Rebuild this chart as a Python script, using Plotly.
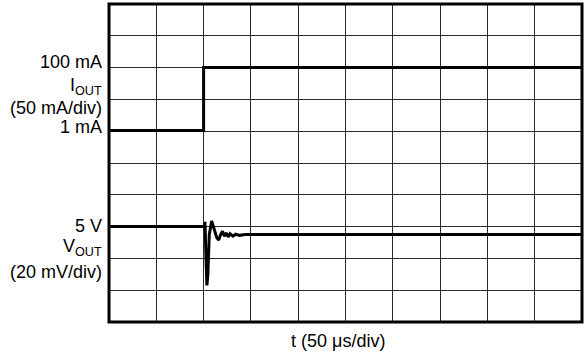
import plotly.graph_objects as go

# time axis, 50 us/div, 10 divisions
t_range = [0, 500]

# output current step (mA)
i_time = [0, 100, 100, 500]
i_out = [1, 1, 100, 100]

# output voltage deviation from 5 V (mV)
v_time = [0, 100, 101, 101.5, 102.5, 103.5, 104.5, 106, 108.5, 111, 114, 116,
          118, 120, 122, 124, 126, 128, 131, 134, 138, 144, 500]
v_out = [0, 0, 0.5, 3, -20, -37, -30, -5, 3.5, -2, -7, -8.5,
         -5, -3, -6, -4, -6.5, -4.5, -6, -4.8, -5.5, -5, -5]

font = 'Liberation Sans, Arial, sans-serif'
fsize = 18

fig = go.Figure()
fig.add_trace(go.Scatter(x=i_time, y=i_out, mode='lines',
                         line=dict(color='black', width=3), yaxis='y'))
fig.add_trace(go.Scatter(x=v_time, y=v_out, mode='lines',
                         line=dict(color='black', width=3), yaxis='y2'))

grid = dict(showgrid=True, gridcolor='#2a2a2a', gridwidth=1.3, zeroline=False,
            showticklabels=False, ticks='', showline=False)

fig.update_layout(
    width=584, height=355,
    margin=dict(l=109, r=2, t=4, b=33),
    paper_bgcolor='white', plot_bgcolor='white',
    showlegend=False,
    font=dict(family=font, size=fsize, color='black'),
    xaxis=dict(range=t_range, dtick=50, **grid),
    yaxis=dict(range=[-300, 200], dtick=50, **grid),
    yaxis2=dict(range=[-60, 140], overlaying='y', showgrid=False, zeroline=False,
                showticklabels=False, ticks='', showline=False),
)

# frame
fig.add_shape(type='rect', xref='paper', yref='paper', x0=0, x1=1, y0=0, y1=1,
              line=dict(color='black', width=3))

labels = [
    ('100 mA', 'y', 100, 6),
    ('I<sub>OUT</sub>', 'y', 69, 1),
    ('(50 mA/div)', 'y', 36, 0),
    ('1 mA', 'y', 1, 4),
    ('5 V', 'y2', 0, 1),
    ('V<sub>OUT</sub>', 'y2', -14, 1),
    ('(20 mV/div)', 'y2', -28.4, 0),
]
for text, yref, yv, ys in labels:
    fig.add_annotation(text=text, xref='paper', x=0, yref=yref, y=yv,
                       xanchor='right', yanchor='middle', xshift=-5, yshift=ys,
                       showarrow=False, font=dict(size=fsize))

fig.add_annotation(text='t (50 \u03bcs/div)', xref='paper', x=0.485, yref='paper', y=0,
                   xanchor='center', yanchor='top', yshift=-7, showarrow=False,
                   font=dict(size=fsize))

fig.write_html("out.html", config={'displayModeBar': False},
               post_script="document.body.style.margin='0';")
